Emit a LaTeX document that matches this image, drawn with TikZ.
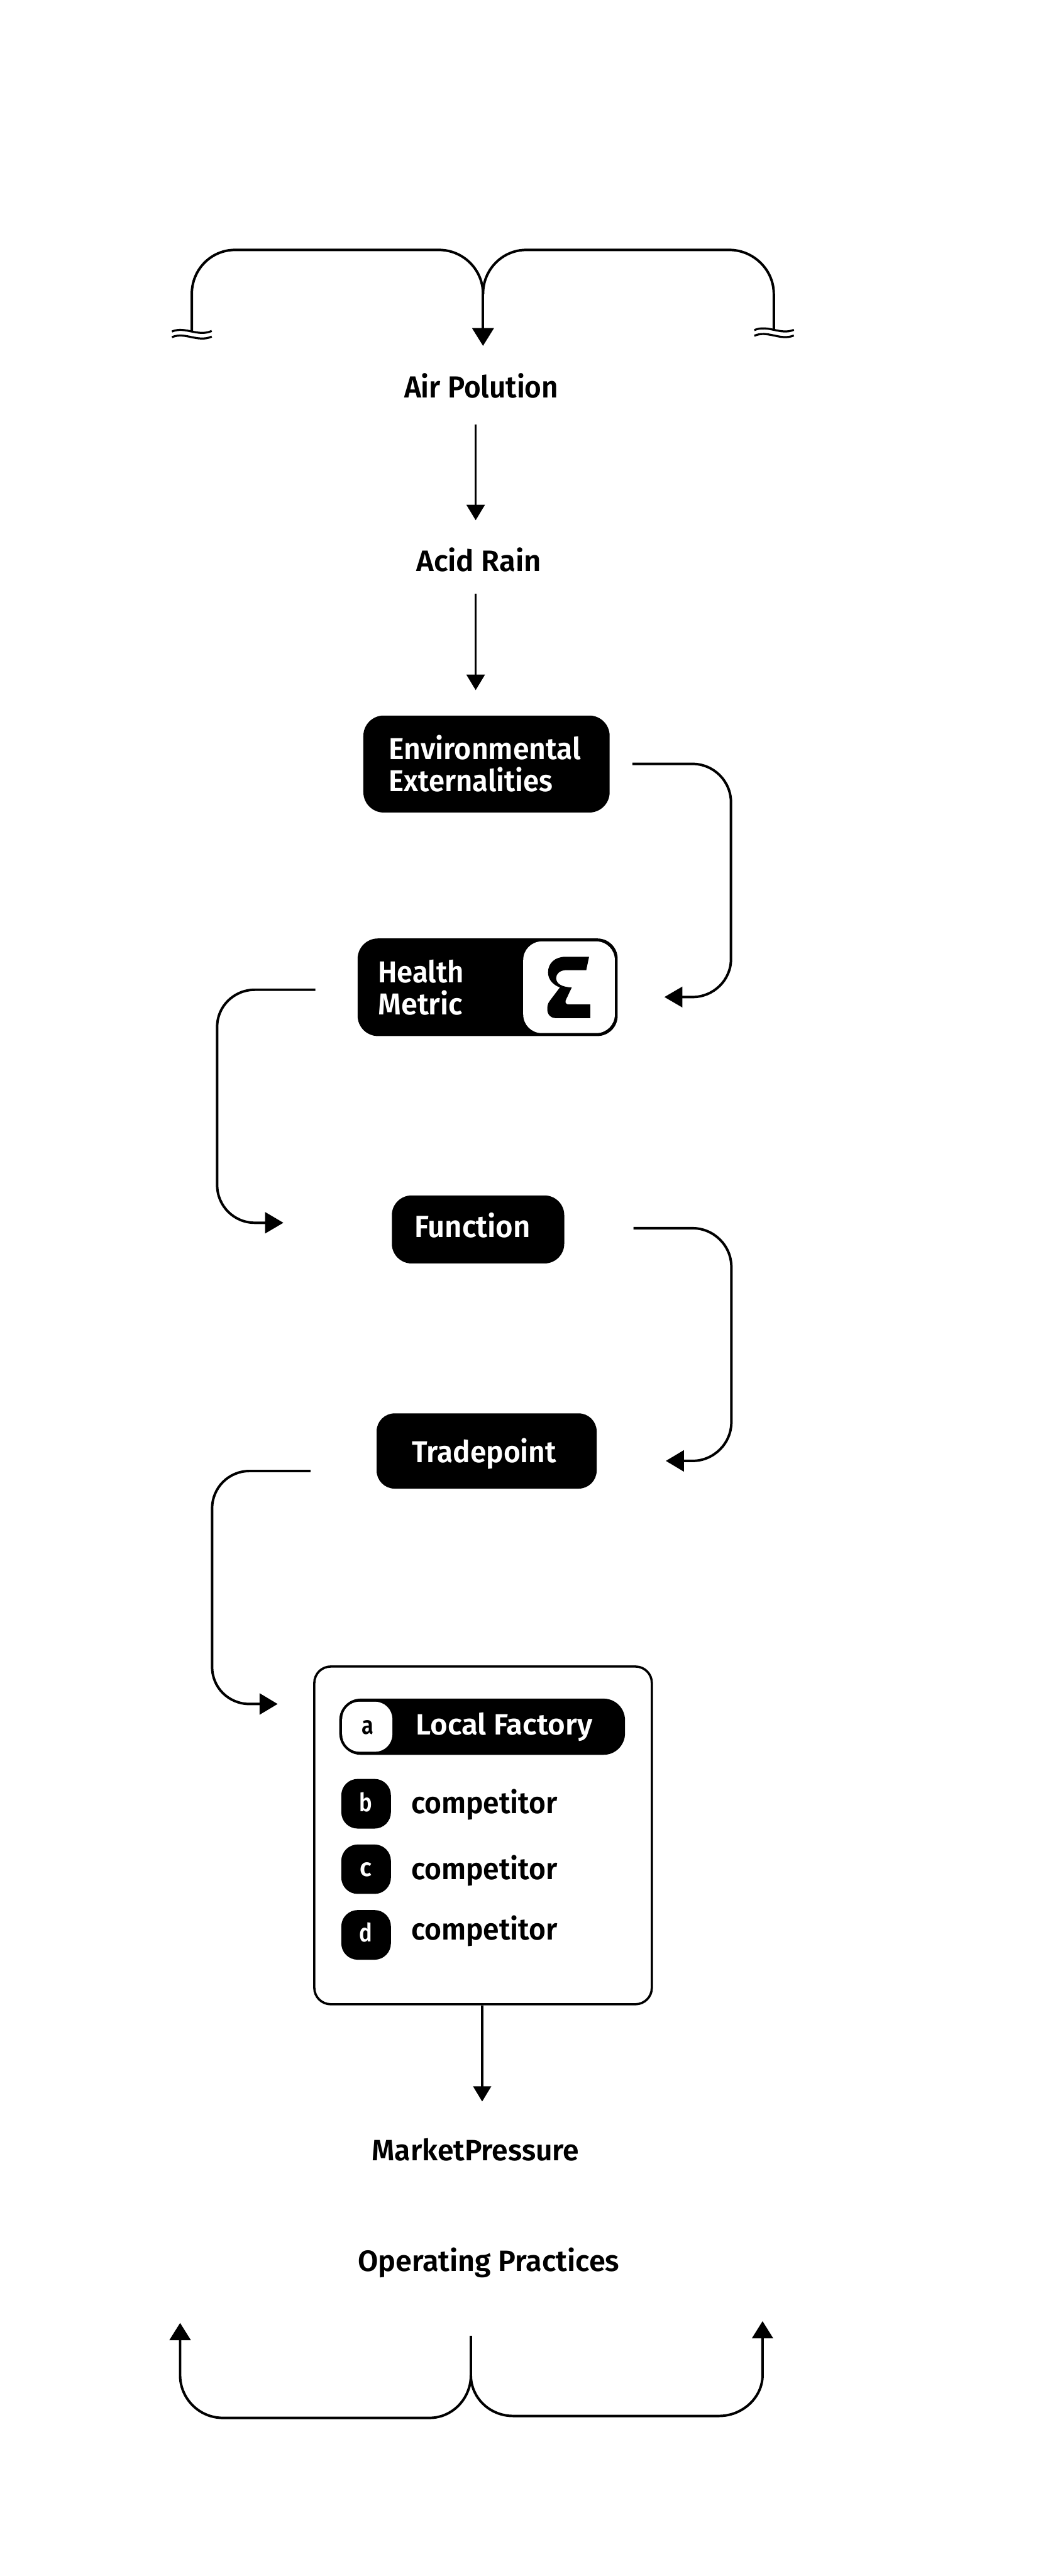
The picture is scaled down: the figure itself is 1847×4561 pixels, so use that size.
\documentclass[tikz,border=0pt]{standalone}
\usepackage{graphicx}
\usepackage{fontspec}
\usetikzlibrary{arrows.meta}
\setmainfont{Fira Sans}[UprightFont=* Medium, BoldFont=* SemiBold]
\newsavebox\fitbox
\newsavebox\capbox
% width in px, cap height in px, text
\newcommand\fitlab[3]{\sbox\fitbox{#3}\sbox\capbox{H}%
  \pgfmathsetmacro\fitsx{#1*0.5/\the\wd\fitbox}%
  \pgfmathsetmacro\fitsy{#2*0.5/\the\ht\capbox}%
  \scalebox{\fitsx}[\fitsy]{#3}}
\newcommand\rbox[7]{% name x1 y1 x2 y2 radius style
  \pgfmathsetmacro\bw{(#4-#2)*0.5}\pgfmathsetmacro\bh{(#5-#3)*0.5}%
  \pgfmathsetmacro\bx{(#2+#4)/2}\pgfmathsetmacro\by{(#3+#5)/2}%
  \pgfmathsetmacro\br{#6*0.5}%
  \node[rectangle,inner sep=0pt,outer sep=0pt,minimum width=\bw pt,minimum height=\bh pt,rounded corners=\br pt,#7] (#1) at (\bx,\by) {};}
\tikzset{
  conn/.style={line width=2.2pt,black},
  thinconn/.style={line width=2pt,black},
  head/.style 2 args={-{Triangle[length=#1pt,width=#2pt,sharp]}},
  blk/.style={fill=black,draw=none},
  wht/.style={fill=white,draw=none},
  frame/.style={fill=white,draw=black,line width=2pt},
  lab/.style={anchor=base west,inner sep=0pt,outer sep=0pt,text=black,font=\bfseries\fontsize{25}{30}\selectfont},
  wlab/.style={lab,text=white},
  wave/.style={line width=1.8pt,black},
}
\begin{document}
\begin{tikzpicture}[x=0.5pt,y=-0.5pt]
\fill[white] (0,0) rectangle (1847,4561);
\useasboundingbox (0,0) rectangle (1847,4561);

% ---- top brace
\coordinate (tJ) at (855.5,520.5);
\coordinate (tL) at (339.7,586.6);
\coordinate (tR) at (1370.5,583.7);
\coordinate (tTip) at (855.5,612.4);
\draw[conn] (tL) -- (339.7,520.5) .. controls (339.7,477) and (374,442.5) .. (416,442.5)
  -- (777.5,442.5) .. controls (820,442.5) and (855.5,477) .. (tJ);
\draw[conn] (tR) -- (1370.5,520.5) .. controls (1370.5,477) and (1334,442.5) .. (1291.7,442.5)
  -- (932,442.5) .. controls (890,442.5) and (855.5,477) .. (tJ);
\draw[conn,head={15.8}{19}] (tJ) -- (tTip);
% break marks
\draw[wave] (304.5,587) .. controls (328,577) and (350,597) .. (375,586);
\draw[wave] (304.5,597) .. controls (328,587) and (350,607) .. (375,596);
\draw[wave] (1336,584.5) .. controls (1360,574) and (1382,594) .. (1406,584);
\draw[wave] (1336,594.5) .. controls (1360,584) and (1382,604) .. (1406,594);

% ---- labels top
\node[lab] (air) at (716,704.2) {\fitlab{273}{37.3}{Air Polution}};
\coordinate (a1) at (842.5,751.3);
\coordinate (a2) at (842.5,921.2);
\draw[thinconn,head={13.75}{16}] (a1) -- (a2);
\node[lab] (acid) at (737.6,1011.4) {\fitlab{221}{36.2}{Acid Rain}};
\coordinate (a3) at (842.5,1051.6);
\coordinate (a4) at (842.5,1222);
\draw[thinconn,head={13.75}{16}] (a3) -- (a4);

% ---- environmental
\rbox{envbox}{643.6}{1266.9}{1079.8}{1438.6}{36}{blk}
\node[wlab] (env1) at (689,1344.4) {\fitlab{340}{37}{Environmental}};
\node[wlab] (env2) at (689,1400.8) {\fitlab{290}{37}{Externalities}};
\coordinate (b1) at (1120,1352.5);
\coordinate (b2) at (1176.7,1765.3);
\draw[conn,head={16}{18}] (b1) -- (1226.5,1352.5) .. controls (1264,1352.5) and (1294.7,1383) .. (1294.7,1420.9)
  -- (1294.7,1698.3) .. controls (1294.7,1735) and (1264,1765.3) .. (1226.5,1765.3) -- (b2);

% ---- health metric
\rbox{hbox}{633.4}{1661.6}{1094}{1834.4}{36}{blk}
\rbox{hwhite}{926.7}{1666.8}{1089}{1829.2}{33}{wht}
\begin{scope}[shift={(900,1640)},x=0.16667pt,y=-0.16667pt]
\fill[black] (430,162) -- (415,233) -- (305,233)
  .. controls (275,235) and (255,252) .. (255,275)
  .. controls (255,305) and (285,323) .. (338,325)
  -- (305,395) .. controls (302,408) and (310,415) .. (322,415)
  -- (436,415) -- (436,488) -- (255,488)
  .. controls (225,488) and (208,468) .. (208,440)
  .. controls (208,420) and (212,408) .. (222,395)
  -- (275,325)
  .. controls (235,310) and (212,280) .. (212,245)
  .. controls (212,195) and (250,162) .. (305,162) -- cycle;
\end{scope}
\node[wlab] (h1) at (669.7,1740) {\fitlab{152}{37}{Health}};
\node[wlab] (h2) at (669.7,1796.4) {\fitlab{150}{37}{Metric}};
\coordinate (c1) at (558.7,1752.4);
\coordinate (c2) at (502,2165);
\draw[conn,head={16.25}{18.5}] (c1) -- (451.6,1752.4) .. controls (414,1752.4) and (384.6,1782) .. (384.6,1817.9)
  -- (384.6,2098) .. controls (384.6,2135) and (414,2165) .. (451.6,2165) -- (c2);

% ---- function
\rbox{fbox}{694}{2116.6}{999.4}{2237}{35}{blk}
\node[wlab] (fn) at (734,2190.6) {\fitlab{205.5}{37.6}{Function}};
\coordinate (d1) at (1122,2174.6);
\coordinate (d2) at (1179.3,2586.6);
\draw[conn,head={16}{18.5}] (d1) -- (1226.5,2174.6) .. controls (1264,2174.6) and (1295.4,2205) .. (1295.4,2243.5)
  -- (1295.4,2517.7) .. controls (1295.4,2556) and (1264,2586.6) .. (1226.5,2586.6) -- (d2);

% ---- tradepoint
\rbox{tbox}{667}{2502.4}{1056.8}{2635.7}{32}{blk}
\node[wlab] (tp) at (730,2589.8) {\fitlab{255.4}{37}{Tradepoint}};
\coordinate (e1) at (549.8,2604.5);
\coordinate (e2) at (491.8,3017);
\draw[conn,head={16}{18.5}] (e1) -- (442,2604.5) .. controls (405,2604.5) and (375.7,2634) .. (375.7,2670.8)
  -- (375.7,2951.4) .. controls (375.7,2988) and (405,3017) .. (442,3017) -- (e2);

% ---- factory frame
\rbox{frame}{556.7}{2950.7}{1154.5}{3548.6}{29}{frame}
\rbox{lf}{600.9}{3007.5}{1107}{3107}{38}{blk}
\rbox{lfa}{606}{3012.9}{695}{3101.6}{31}{wht}
\node[lab,anchor=base] (la) at (651,3071) {\fitlab{21}{31}{a}};
\node[wlab] (lftext) at (736.6,3071.8) {\fitlab{313}{36}{Local Factory}};
\rbox{bb}{604.5}{3149.7}{692.4}{3237.6}{29}{blk}
\rbox{bc}{604.5}{3265.8}{692.4}{3353.3}{29}{blk}
\rbox{bd}{604.5}{3381.9}{692.4}{3469.8}{29}{blk}
\node[wlab,anchor=base] (lb) at (648,3207.8) {\fitlab{23}{31}{b}};
\node[wlab,anchor=base] (lc) at (648,3321.8) {\fitlab{21}{31}{c}};
\node[wlab,anchor=base] (ld) at (648,3437.9) {\fitlab{23}{31}{d}};
\node[lab] (c1t) at (728.6,3211) {\fitlab{259}{37}{competitor}};
\node[lab] (c2t) at (728.6,3327.2) {\fitlab{259}{37}{competitor}};
\node[lab] (c3t) at (728.6,3435) {\fitlab{259}{37}{competitor}};
\coordinate (f1) at (854,3550.6);
\coordinate (f2) at (854,3720.9);
\draw[thinconn,head={13.5}{15.7}] (f1) -- (f2);

% ---- bottom labels
\node[lab] (mp) at (658.8,3826) {\fitlab{367}{36}{MarketPressure}};
\node[lab] (op) at (633.6,4021) {\fitlab{463.5}{36}{Operating Practices}};

% ---- bottom brace
\coordinate (bS) at (834,4135.7);
\coordinate (bJ) at (834,4205.6);
\coordinate (bL) at (319,4112.8);
\coordinate (bR) at (1350.6,4109.7);
\draw[conn] (bS) -- (bJ);
\draw[conn,head={15.3}{18.5}] (bJ) .. controls (834,4246) and (802,4281) .. (760.6,4281)
  -- (394.8,4281) .. controls (352,4281) and (319,4246) .. (319,4205.6) -- (bL);
\draw[conn,head={15.3}{18.5}] (bJ) .. controls (834,4244) and (866,4277.6) .. (909,4277.6)
  -- (1273.3,4277.6) .. controls (1316,4277.6) and (1350.6,4244) .. (1350.6,4205.6) -- (bR);
\end{tikzpicture}
\end{document}
